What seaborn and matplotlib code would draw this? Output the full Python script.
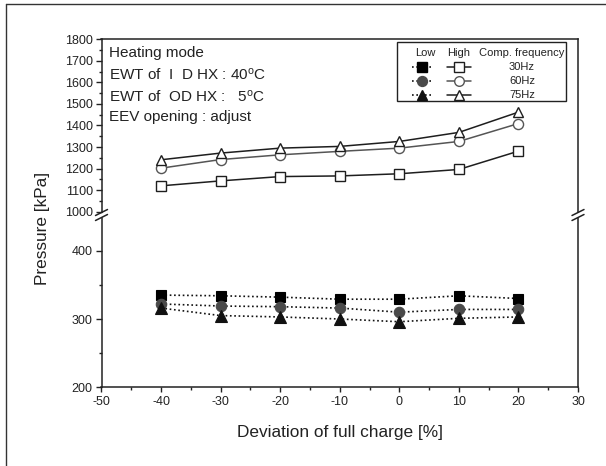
import numpy as np
import pandas as pd
import matplotlib
matplotlib.use("Agg")
import matplotlib.pyplot as plt
import seaborn as sns

# ---- data ----
deviation = [-40, -30, -20, -10, 0, 10, 20]
freq_labels = ["30Hz", "60Hz", "75Hz"]
high_30 = [1120, 1143, 1163, 1166, 1176, 1196, 1281]
high_60 = [1202, 1242, 1264, 1280, 1295, 1326, 1409]
high_75 = [1241, 1272, 1295, 1303, 1326, 1368, 1462]
low_30 = [335, 334, 332, 329, 329, 334, 330]
low_60 = [322, 319, 318, 316, 310, 314, 314]
low_75 = [316, 305, 303, 300, 296, 301, 303]
upper_ticks = [1000, 1100, 1200, 1300, 1400, 1500, 1600, 1700, 1800]
lower_ticks = [200, 300, 400]
x_ticks = [-50, -40, -30, -20, -10, 0, 10, 20, 30]

sns.set_theme(style="white")
plt.rcParams['font.family'] = ['Liberation Sans', 'DejaVu Sans']
plt.rcParams['mathtext.fontset'] = 'custom'
plt.rcParams['mathtext.rm'] = 'Liberation Sans'
plt.rcParams['mathtext.it'] = 'Liberation Sans'

W, H = 606, 466
fig = plt.figure(figsize=(W / 100, H / 100), dpi=100)
fig.patch.set_facecolor("white")

def fx(px):
    return px / W

def fy(py):
    return 1 - py / H

L, R = 101.5, 578
top_u, bot_u = 39.3, 212.5
top_l, bot_l = 217.5, 387.3
ax_u = fig.add_axes([fx(L), fy(bot_u), fx(R) - fx(L), fy(top_u) - fy(bot_u)])
ax_l = fig.add_axes([fx(L), fy(bot_l), fx(R) - fx(L), fy(top_l) - fy(bot_l)])

pu = (211.7 - 39.3) / 800.0
ax_u.set_ylim(1000 - (bot_u - 211.7) / pu, 1800)
pl = (387.3 - 250.7) / 200.0
ax_l.set_ylim(200, 400 + (250.7 - top_l) / pl)
for a in (ax_u, ax_l):
    a.set_xlim(-50, 30)
    a.set_facecolor("none")
    for s in a.spines.values():
        s.set_color("#222222")
        s.set_linewidth(1.1)

dark = "#1e1e1e"
gray = "#555555"
circ = "#4a4a4a"
dots = (0, (1, 1.6))

hi_styles = [(high_30, "s", dark, 7.0), (high_60, "o", gray, 7.3), (high_75, "^", dark, 7.8)]
for vals, m, c, ms in hi_styles:
    sns.lineplot(x=deviation, y=vals, ax=ax_u, color=c, marker=m, markersize=ms,
                 markerfacecolor="white", markeredgecolor=c, markeredgewidth=1.0,
                 linewidth=1.1, linestyle="-", zorder=3)

lo_styles = [(low_30, "s", "#000000", 7.0), (low_60, "o", circ, 7.5), (low_75, "^", "#111111", 8.0)]
for vals, m, c, ms in lo_styles:
    sns.lineplot(x=deviation, y=vals, ax=ax_l, color="#111111", marker=m, markersize=ms,
                 markerfacecolor=c, markeredgecolor=c, markeredgewidth=0.8,
                 linewidth=1.2, linestyle=dots, zorder=3)

ax_u.spines["bottom"].set_visible(False)
ax_l.spines["top"].set_visible(False)
ax_u.set_xticks([])
ax_u.set_yticks(upper_ticks)
ax_u.set_yticks(np.arange(1050, 1800, 100), minor=True)
ax_l.set_yticks(lower_ticks)
ax_l.set_yticks([250, 350], minor=True)
ax_l.set_xticks(x_ticks)
ax_l.set_xticks(np.arange(-45, 30, 10), minor=True)
for a in (ax_u, ax_l):
    a.tick_params(axis="y", which="major", direction="out", length=4.3, width=1.0,
                  color="#222222", labelsize=9, pad=2, left=True, right=False, labelcolor="#222222")
    a.tick_params(axis="y", which="minor", direction="out", length=2.0, width=1.0,
                  color="#222222", left=True, right=False)
ax_l.tick_params(axis="x", which="major", direction="out", length=3.6, width=1.0,
                 color="#222222", labelsize=9, pad=3, bottom=True, labelcolor="#222222")
ax_l.tick_params(axis="x", which="minor", direction="out", length=2.2, width=1.0,
                 color="#222222", bottom=True)
ax_l.set_xticklabels([str(v) for v in x_ticks])
for a in (ax_u, ax_l):
    a.set_ylabel("")
    a.set_xlabel("")

fig.text(fx(340), fy(433), "Deviation of full charge [%]", ha="center", va="center",
         fontsize=12.4, color="#222222")
fig.text(fx(42), fy(228), "Pressure [kPa]", ha="center", va="center", rotation=90,
         fontsize=12.4, color="#222222")

notes = ["Heating mode", "EWT of  I  D HX : 40$^{\\mathrm{o}}$C",
         "EWT of  OD HX :   5$^{\\mathrm{o}}$C", "EEV opening : adjust"]
for t, yy in zip(notes, [53, 75, 97, 117]):
    fig.text(fx(109), fy(yy), t, ha="left", va="center", fontsize=11, color="#222222")

ov = fig.add_axes([0, 0, 1, 1], zorder=10)
ov.set_xlim(0, W)
ov.set_ylim(H, 0)
ov.axis("off")
ov.patch.set_visible(False)

ov.plot([6, 6], [4, H], color="#333333", lw=1.0)
ov.plot([6, W], [4, 4], color="#333333", lw=1.0)

for xb in (L, R):
    for yb in (212.5, 217.5):
        ov.plot([xb - 6, xb + 6], [yb + 3, yb - 3], color="#222222", lw=1.1)

ov.add_patch(plt.Rectangle((397, 42), 169, 59, fill=False, edgecolor="#222222", lw=1.0))
ov.text(425, 53, "Low", ha="center", va="center", fontsize=8, color="#222222")
ov.text(459, 53, "High", ha="center", va="center", fontsize=8, color="#222222")
ov.text(522, 53, "Comp. frequency", ha="center", va="center", fontsize=8, color="#222222")
rows = [67, 81, 95]
for (vals, m, c, ms), (_, m2, c2, ms2), lab, yy in zip(lo_styles, hi_styles, freq_labels, rows):
    ov.plot([412, 432], [yy, yy], color="#111111", lw=1.2, linestyle=dots)
    ov.plot([422], [yy], marker=m, markersize=ms * 0.95, color=c, markeredgecolor=c)
    ov.plot([447, 471], [yy, yy], color=c2, lw=1.1)
    ov.plot([459], [yy], marker=m2, markersize=ms2 * 0.95, markerfacecolor="white",
            markeredgecolor=c2, markeredgewidth=1.0)
    ov.text(522, yy, lab, ha="center", va="center", fontsize=8, color="#222222")

fig.savefig("out.png", dpi=100, facecolor="white")
